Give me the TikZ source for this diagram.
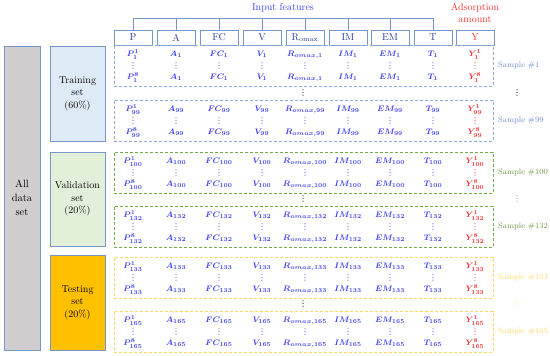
\documentclass[tikz,border=0pt]{standalone}
\usepackage{fontspec}
\newfontfamily\dejavu{DejaVu Sans}
\usetikzlibrary{positioning}
\definecolor{edgeblue}{RGB}{120,150,200}
\definecolor{dashblue}{RGB}{143,170,220}
\definecolor{featblue}{RGB}{64,64,240}
\definecolor{hdrblue}{RGB}{40,60,160}
\definecolor{ampred}{RGB}{245,50,50}
\definecolor{grpgreen}{RGB}{112,173,71}
\definecolor{smpgreen}{RGB}{110,150,60}
\definecolor{grpyellow}{RGB}{255,217,102}
\definecolor{smpblue}{RGB}{110,140,200}
\definecolor{allgray}{RGB}{208,206,206}
\definecolor{trainfill}{RGB}{222,235,247}
\definecolor{valfill}{RGB}{226,240,217}
\definecolor{testfill}{RGB}{255,192,0}
\tikzset{
  hdr/.style={draw=edgeblue, line width=0.9pt, minimum width=38pt, minimum height=15pt, inner sep=0pt, text=hdrblue, font=\normalsize},
  setbox/.style={draw=edgeblue, line width=0.9pt, minimum width=55pt, align=center, inner sep=0pt, font={\fontsize{10}{12.5}\selectfont}},
  grp/.style={draw=#1, dash pattern=on 3pt off 2pt, line width=0.8pt, minimum width=379pt, minimum height=41pt, inner sep=0pt},
  cell/.style={text=featblue, font={\footnotesize\boldmath}, inner sep=0pt},
  ycell/.style={cell, text=ampred},
  vd/.style={text=#1, font={\dejavu\fontsize{8}{8}\selectfont}, inner sep=0pt},
  smp/.style={font=\footnotesize, text=#1, anchor=west, inner sep=0pt},
}
\begin{document}
\begin{tikzpicture}[x=1pt,y=-1pt]
        \useasboundingbox (0,0) rectangle (550,356);
        % sets
        \node [setbox, fill=allgray, minimum width=36pt, minimum height=304pt, font={\fontsize{10.5}{14}\selectfont}] (all) at (22,198) {All\\data\\set};
        \node [setbox, fill=trainfill, minimum height=95pt] (train) at (77.5,93.5) {Training\\set\\(60\%)};
        \node [setbox, fill=valfill, minimum height=94pt] (valid) at (77.5,199) {Validation\\set\\(20\%)};
        \node [setbox, fill=testfill, minimum height=95pt] (test) at (77.5,302.5) {Testing\\set\\(20\%)};
        % header
        \foreach \i/\x/\t in {1/133/P, 2/176/A, 3/219/FC, 4/262/V, 5/305/{R$_{\mathrm{omax}}$}, 6/348/IM, 7/390/EM, 8/433/T}
            \node [hdr] (h\i) at (\x,37.5) {\t};
        \node [hdr, text=ampred] (h9) at (475,37.5) {Y};
        \coordinate (brk) at (283,18);
        \foreach \i in {1,...,8} \draw [edgeblue, line width=0.8pt] (h\i.north) -- (h\i.north |- brk);
        \draw [edgeblue, line width=0.8pt] (h1.north |- brk) -- (h8.north |- brk);
        \node [text=featblue] (feat) at (283,8) {Input features};
        \node [text=ampred, align=center, font={\fontsize{10}{12}\selectfont}] (amount) at (475,13) {Adsorption\\amount};
        % samples
        \foreach \g/\top/\n/\col/\scol in {1/45/1/dashblue/smpblue, 2/100/99/dashblue/smpblue, 3/152/100/grpgreen/smpgreen, 4/206/132/grpgreen/smpgreen, 5/257/133/grpyellow/grpyellow, 6/311/165/grpyellow/grpyellow}{
            \node [grp=\col] (g\g) at (303.5,\top+20.5) {};
            \node [smp=\scol] (s\g) at (498,\top+20.5) {Sample \#\n};
            \foreach \x/\a/\b in {133/{P^{1}_{\n}}/{P^{8}_{\n}}, 176/{A_{\n}}/{A_{\n}}, 219/{FC_{\n}}/{FC_{\n}}, 262/{V_{\n}}/{V_{\n}}, 305/{R_{omax,\n}}/{R_{omax,\n}}, 348/{IM_{\n}}/{IM_{\n}}, 390/{EM_{\n}}/{EM_{\n}}, 433/{T_{\n}}/{T_{\n}}}{
                \node [cell] at (\x,\top+9.5) {$\a$};
                \node [vd=featblue] at (\x,\top+21) {⋮};
                \node [cell] at (\x,\top+32.5) {$\b$};
            }
            \node [ycell] (y\g a) at (475,\top+9.5) {$Y^{1}_{\n}$};
            \node [vd=ampred] at (475,\top+21) {⋮};
            \node [ycell] (y\g b) at (475,\top+32.5) {$Y^{8}_{\n}$};
        }
        % dots
        \node [vd=black] (m1) at (303,93) {⋮};\node [vd=black] (r1) at (517,93) {⋮};
        \node [vd=black] (m2) at (303,199) {⋮};\node [vd=smpgreen] (r2) at (517,199) {⋮};
        \node [vd=black] (m3) at (303,304) {⋮};\node [vd=grpyellow] (r3) at (517,304) {⋮};
    \end{tikzpicture}
\end{document}
